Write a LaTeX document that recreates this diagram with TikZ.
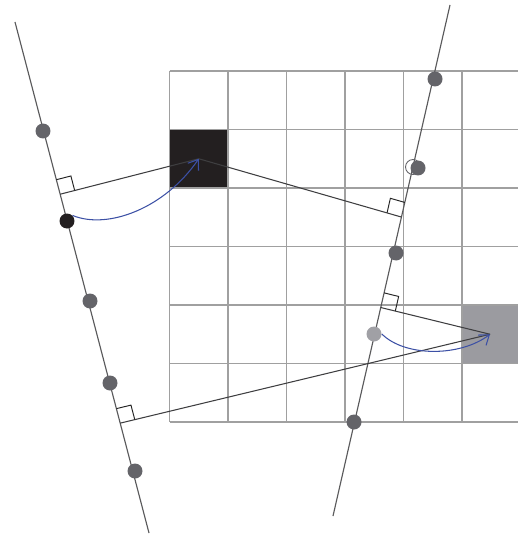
\documentclass[tikz,border=0pt]{standalone}
\usepackage{tikz}
\usetikzlibrary{calc,arrows.meta}
\definecolor{GridGray}{RGB}{160,160,160}
\definecolor{LineGray}{RGB}{90,90,92}
\definecolor{LinkGray}{RGB}{62,62,64}
\definecolor{DotGray}{RGB}{100,100,105}
\definecolor{DotLight}{RGB}{160,160,165}
\definecolor{CellBlack}{RGB}{35,31,32}
\definecolor{CellGray}{RGB}{155,155,160}
\definecolor{FlowBlue}{RGB}{60,80,165}

\begin{document}
\begin{tikzpicture}[
    x=0.02cm, y=-0.02cm,
    gridline/.style={
        draw=GridGray,
        line width=0.8pt
    },
    axis/.style={
        draw=LineGray,
        line width=0.65pt
    },
    link/.style={
        draw=LinkGray,
        line width=0.6pt
    },
    rightmark/.style={
        draw=black!85,
        line width=0.55pt
    },
    cell/.style={
        rectangle,
        inner sep=0pt,
        minimum width=1.17cm,
        minimum height=1.17cm
    },
    dot/.style={
        circle,
        inner sep=0pt,
        minimum size=0.3cm,
        fill=DotGray
    },
    hollow/.style={
        circle,
        inner sep=0pt,
        minimum size=0.3cm,
        draw=DotGray,
        line width=0.5pt
    },
    flow/.style={
        draw=FlowBlue,
        line width=0.6pt,
        -{Straight Barb[length=1.8mm,width=2.6mm]}
    }
]
\useasboundingbox (0,0) rectangle (518,537);

% cells
\node[cell, fill=CellBlack] (dark) at (198.75,158.75) {};
\node[cell, fill=CellGray, minimum width=1.12cm] (gray) at (490,334.25) {};

% grid
\foreach \i in {0,...,5}
    \draw[gridline] (169.5+58.5*\i,71) -- (169.5+58.5*\i,422);
\foreach \j in {0,...,6}
    \draw[gridline] (169.5,71+58.5*\j) -- (518,71+58.5*\j);

% the two lines
\coordinate (lt) at (15,22);
\coordinate (lb) at (149,533);
\coordinate (rt) at (450,5);
\coordinate (rb) at (333,516);
\draw[axis] (lt) -- (lb);
\draw[axis] (rt) -- (rb);

% feet
\coordinate (fl1) at ($(lt)!0.337!(lb)$);
\coordinate (fl2) at ($(lt)!0.785!(lb)$);
\coordinate (fr1) at ($(rt)!0.415!(rb)$);
\coordinate (fr2) at ($(rt)!0.592!(rb)$);

\draw[link] (dark.center) -- (fl1);
\draw[link] (dark.center) -- (fr1);
\draw[link] (gray.center) -- (fl2);
\draw[link] (gray.center) -- (fr2);

\foreach \f/\t/\p in {fl1/lt/dark, fl2/lt/gray, fr1/rt/dark, fr2/rt/gray} {
    \coordinate (ma) at ($(\f)!0.3cm!(\t)$);
    \coordinate (mb) at ($(\f)!0.3cm!(\p.center)$);
    \draw[rightmark] (ma) -- ($(ma)+(mb)-(\f)$) -- (mb);
}

% points on the left line
\node[dot] (l1) at (43,131) {};
\node[dot, fill=CellBlack] (blk) at (67,221) {};
\node[dot] (l3) at (90,301) {};
\node[dot] (l4) at (110,383) {};
\node[dot] (l5) at (135,471) {};

% points on the right line
\node[dot] (r1) at (435,79) {};
\node[hollow] (rh) at (413,167) {};
\node[dot] (r2) at (418,168) {};
\node[dot] (r3) at (396,253) {};
\node[dot, fill=DotLight] (lgt) at (374,334) {};
\node[dot] (r5) at (354,422) {};

\draw[flow] (blk.north east) .. controls (108,230) and (165,208) .. (dark.center);
\draw[flow] (lgt.east) .. controls (405,357) and (460,357) .. (gray.center);

\end{tikzpicture}
\end{document}
